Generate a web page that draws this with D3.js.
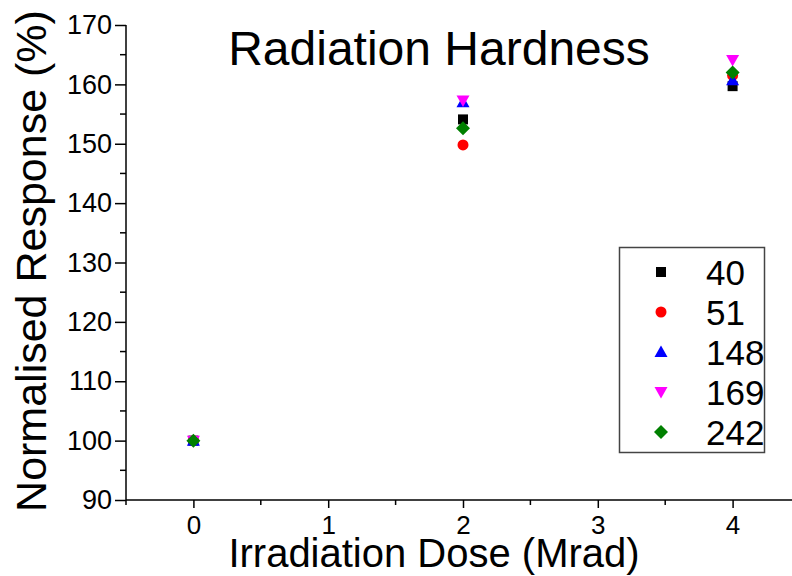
<!DOCTYPE html>
<html>
<head>
<meta charset="utf-8">
<script src="https://cdn.jsdelivr.net/npm/d3@7"></script>
<style>
  html, body { margin: 0; padding: 0; background: #fff; }
  svg { display: block; }
  text { font-family: "Liberation Sans", Arial, Helvetica, sans-serif; fill: #000; }
</style>
</head>
<body>
<svg id="chart" width="792" height="576"></svg>
<script>
// ---- data ----
const doses = [0, 2, 4];
const seriesNames = ["40", "51", "148", "169", "242"];
const values40  = [100, 154.1, 159.7];
const values51  = [100, 149.8, 161.5];
const values148 = [100, 157.0, 160.7];
const values169 = [100, 157.3, 164.1];
const values242 = [100, 152.6, 162.0];
const seriesColors = ["#000000", "#ff0000", "#0000ff", "#ff00ff", "#008000"];
const seriesSymbols = ["square", "circle", "triangle", "triangleDown", "diamond"];
const xTicks = [0, 1, 2, 3, 4];
const yTicks = [90, 100, 110, 120, 130, 140, 150, 160, 170];
const titleText = "Radiation Hardness";
const xLabel = "Irradiation Dose (Mrad)";
const yLabel = "Normalised Response (%)";

const allValues = [values40, values51, values148, values169, values242];
const series = seriesNames.map((name, i) => ({
  name, color: seriesColors[i], symbol: seriesSymbols[i],
  points: doses.map((d, j) => ({ x: d, y: allValues[i][j] }))
}));

// ---- layout ----
const svg = d3.select("#chart");
const x = d3.scaleLinear().domain([-0.5, 4.5]).range([126, 800]);
const y = d3.scaleLinear().domain([90, 170]).range([500, 25]);

function symbolPath(type) {
  const s = 7;
  switch (type) {
    case "square": return `M${-5},${-5}H5V5H-5Z`;
    case "circle": return d3.symbol(d3.symbolCircle, 95)();
    case "triangle": return `M0,${-6.5}L${6.5},${5}L${-6.5},${5}Z`;
    case "triangleDown": return `M0,${6.5}L${6.5},${-5}L${-6.5},${-5}Z`;
    case "diamond": return `M0,${-s}L${s},0L0,${s}L${-s},0Z`;
  }
}

// ---- axes ----
const yAxis = d3.axisLeft(y).tickValues(yTicks).tickSize(11).tickPadding(3).tickFormat(d3.format("d"));
const gy = svg.append("g").attr("transform", `translate(${x(-0.5)},0)`).call(yAxis);
gy.select(".domain").attr("stroke", "#000").attr("stroke-width", 1.5).attr("d", `M0,${y(170)}V${y(90)}`);
gy.selectAll(".tick line").attr("stroke", "#000").attr("stroke-width", 1.5);
gy.selectAll(".tick text").attr("font-size", 27).attr("font-family", '"Liberation Sans", Arial, sans-serif').attr("fill", "#000");

// y minor ticks
const yMinor = d3.range(95, 170, 10);
svg.append("g").selectAll("line").data(yMinor).join("line")
  .attr("x1", x(-0.5) - 6).attr("x2", x(-0.5))
  .attr("y1", d => y(d)).attr("y2", d => y(d))
  .attr("stroke", "#000").attr("stroke-width", 1.5);

const xAxis = d3.axisBottom(x).tickValues(xTicks).tickSize(8).tickPadding(8).tickFormat(d3.format("d"));
const gx = svg.append("g").attr("transform", `translate(0,${y(90)})`).call(xAxis);
gx.select(".domain").attr("stroke", "#000").attr("stroke-width", 1.5).attr("d", `M${x(-0.5)},0H${x(4.5)}`);
gx.selectAll(".tick line").attr("stroke", "#000").attr("stroke-width", 1.5);
gx.selectAll(".tick text").attr("font-size", 26).attr("font-family", '"Liberation Sans", Arial, sans-serif').attr("fill", "#000");

const xMinor = [-0.5, 0.5, 1.5, 2.5, 3.5, 4.5];
svg.append("g").selectAll("line").data(xMinor).join("line")
  .attr("x1", d => x(d)).attr("x2", d => x(d))
  .attr("y1", y(90)).attr("y2", y(90) + 5)
  .attr("stroke", "#000").attr("stroke-width", 1.5);

// ---- points ----
series.forEach(s => {
  svg.append("g").selectAll("path").data(s.points).join("path")
    .attr("d", symbolPath(s.symbol))
    .attr("transform", d => `translate(${x(d.x)},${y(d.y)})`)
    .attr("fill", s.color);
});

// ---- title & labels ----
svg.append("text").attr("x", 439).attr("y", 65).attr("text-anchor", "middle")
  .attr("font-size", 48).text(titleText);
svg.append("text").attr("x", 434).attr("y", 567).attr("text-anchor", "middle")
  .attr("font-size", 40).text(xLabel);
svg.append("text").attr("transform", "translate(46,261) rotate(-90)").attr("text-anchor", "middle")
  .attr("font-size", 43).text(yLabel);

// ---- legend ----
const legend = svg.append("g");
legend.append("rect").attr("x", 619.5).attr("y", 247.5).attr("width", 145).attr("height", 205)
  .attr("fill", "#fff").attr("stroke", "#444").attr("stroke-width", 1.5);
const ly = d3.scalePoint().domain(seriesNames).range([272, 432]);
series.forEach(s => {
  legend.append("path").attr("d", symbolPath(s.symbol))
    .attr("transform", `translate(661,${ly(s.name)})`).attr("fill", s.color);
  legend.append("text").attr("x", 706).attr("y", ly(s.name) + 13)
    .attr("font-size", 35).text(s.name);
});
</script>
</body>
</html>
